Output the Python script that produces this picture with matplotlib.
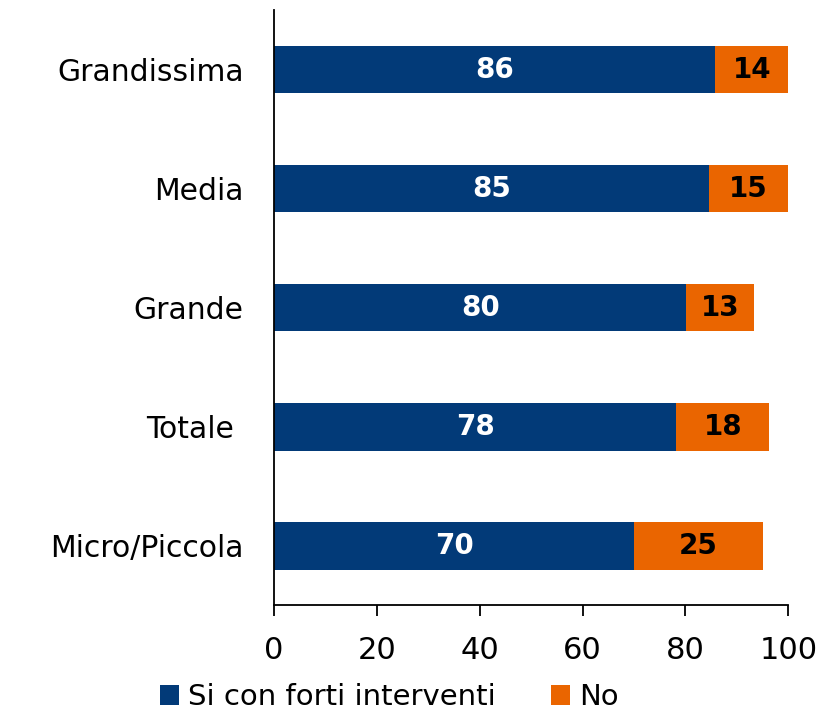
import matplotlib
matplotlib.use('Agg')
import matplotlib.pyplot as plt
import numpy as np

categories = ['Micro/Piccola', 'Totale ', 'Grande', 'Media', 'Grandissima']
si_values = [70.0, 78.2, 80.2, 84.6, 85.8]
no_values = [25.1, 18.1, 13.2, 15.4, 14.2]
si_labels = ['70', '78', '80', '85', '86']
no_labels = ['25', '18', '13', '15', '14']
xticks = [0, 20, 40, 60, 80, 100]

blue = '#023A78'
orange = '#EA6500'

plt.rcParams['font.family'] = ['DejaVu Sans']

fig = plt.figure(figsize=(8.28, 7.18), dpi=100)
ax = fig.add_axes([0.331, 0.157, 0.621, 0.829])

y = np.arange(len(categories))
ax.barh(y, si_values, height=0.4, color=blue, label='Si con forti interventi')
ax.barh(y, no_values, left=si_values, height=0.4, color=orange, label='No')

for i in range(len(categories)):
    ax.text(si_values[i] / 2, y[i], si_labels[i], ha='center', va='center',
            color='white', fontsize=20, fontweight='bold')
    ax.text(si_values[i] + no_values[i] / 2, y[i], no_labels[i], ha='center', va='center',
            color='black', fontsize=20, fontweight='bold')

ax.set_ylim(-0.5, 4.5)
ax.set_xlim(0, 100)
ax.set_xticks(xticks)
ax.set_xticklabels([str(t) for t in xticks], fontsize=22)
ax.set_yticks(y)
ax.set_yticklabels(categories, fontsize=21.5)
ax.tick_params(axis='y', length=0, pad=22)
ax.tick_params(axis='x', length=8, width=1.3, direction='out', pad=14)
ax.spines['top'].set_visible(False)
ax.spines['right'].set_visible(False)
ax.spines['left'].set_linewidth(1.3)
ax.spines['bottom'].set_linewidth(1.3)

ax.legend(loc='lower center', bbox_to_anchor=(0.224, -0.198), ncol=2, frameon=False,
          fontsize=21, handlelength=0.65, handleheight=0.65, handletextpad=0.3,
          columnspacing=1.9, borderaxespad=0)

fig.savefig('out.png', dpi=100)
